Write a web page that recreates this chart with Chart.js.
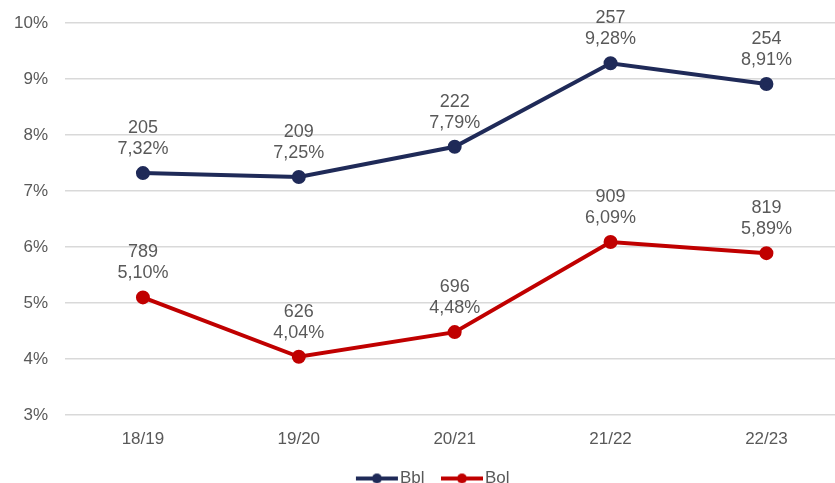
<!DOCTYPE html>
<html>
<head>
<meta charset="utf-8">
<script src="https://cdn.jsdelivr.net/npm/chart.js@4/dist/chart.umd.min.js"></script>
<style>
  html, body { margin: 0; padding: 0; background: #fff; overflow: hidden; }
  #wrap { width: 835px; height: 483px; position: relative; }
</style>
</head>
<body>
<div id="wrap"><canvas id="rateChart"></canvas></div>
<script>
// Data
const categories = ['18/19', '19/20', '20/21', '21/22', '22/23'];
const bblRates = [7.32, 7.25, 7.79, 9.28, 8.91];
const bblCounts = [205, 209, 222, 257, 254];
const bolRates = [5.10, 4.04, 4.48, 6.09, 5.89];
const bolCounts = [789, 626, 696, 909, 819];
const yMin = 3, yMax = 10, yStep = 1;

const textColor = '#595959';
const fontFamily = "'Liberation Sans', Arial, sans-serif";
const navy = '#1F2A58';
const red = '#C00000';

// legend marker: short line with a dot in the middle (blank space on the left = gap between items)
function legendMarker(color) {
  const c = document.createElement('canvas');
  c.width = 59; c.height = 12;
  const ctx = c.getContext('2d');
  ctx.strokeStyle = color;
  ctx.lineWidth = 4;
  ctx.beginPath();
  ctx.moveTo(16, 6);
  ctx.lineTo(58, 6);
  ctx.stroke();
  ctx.fillStyle = color;
  ctx.beginPath();
  ctx.arc(37, 6, 5, 0, Math.PI * 2);
  ctx.fill();
  return c;
}

// two-line labels (count over percent) above each point
const pointLabels = {
  id: 'pointLabels',
  afterDatasetsDraw(chart) {
    const ctx = chart.ctx;
    ctx.save();
    ctx.font = '18px ' + fontFamily;
    ctx.fillStyle = textColor;
    ctx.textAlign = 'center';
    ctx.textBaseline = 'middle';
    chart.data.datasets.forEach(function(ds, di) {
      const meta = chart.getDatasetMeta(di);
      meta.data.forEach(function(pt, i) {
        const pct = ds.data[i].y.toFixed(2).replace('.', ',') + '%';
        ctx.fillText(String(ds.counts[i]), pt.x, pt.y - 45);
        ctx.fillText(pct, pt.x, pt.y - 24);
      });
    });
    ctx.restore();
  }
};

// nudge the legend row a little to the right, like the original
const legendShift = {
  id: 'legendShift',
  afterLayout(chart) {
    if (chart.legend) {
      chart.legend.left += 11;
      chart.legend.right += 11;
    }
  }
};

const toPoints = function(vals) {
  return vals.map(function(v, i) { return { x: i, y: v }; });
};

new Chart(document.getElementById('rateChart'), {
  type: 'line',
  data: {
    datasets: [{
      label: 'Bbl',
      data: toPoints(bblRates),
      counts: bblCounts,
      borderColor: navy,
      backgroundColor: navy,
      borderWidth: 4,
      pointRadius: 5,
      pointStyle: 'circle',
      tension: 0
    }, {
      label: 'Bol',
      data: toPoints(bolRates),
      counts: bolCounts,
      borderColor: red,
      backgroundColor: red,
      borderWidth: 4,
      pointRadius: 5,
      pointStyle: 'circle',
      tension: 0
    }]
  },
  options: {
    responsive: true,
    maintainAspectRatio: false,
    animation: false,
    layout: {
      autoPadding: false,
      padding: { top: 23, right: 0, bottom: -14, left: 0 }
    },
    scales: {
      x: {
        type: 'linear',
        min: -0.5,
        max: 4.44,
        afterBuildTicks: function(scale) {
          scale.ticks = categories.map(function(c, i) { return { value: i }; });
        },
        afterFit: function(scale) { scale.height = 47; },
        ticks: {
          callback: function(v) { return categories[v]; },
          color: textColor,
          font: { family: fontFamily, size: 17 },
          padding: 14,
          maxRotation: 0
        },
        grid: { display: false, drawTicks: false },
        border: { display: false }
      },
      y: {
        min: yMin,
        max: yMax,
        ticks: {
          stepSize: yStep,
          callback: function(v) { return v + '%'; },
          color: textColor,
          font: { family: fontFamily, size: 17 },
          padding: 17
        },
        afterFit: function(scale) {
          scale.width = 65;
          scale.paddingTop = 0;
          scale.paddingBottom = 0;
        },
        grid: { color: '#D9D9D9', lineWidth: 1.5, drawTicks: false },
        border: { display: false }
      }
    },
    plugins: {
      tooltip: { enabled: false },
      legend: {
        position: 'bottom',
        labels: {
          color: textColor,
          font: { family: fontFamily, size: 17 },
          usePointStyle: true,
          pointStyleWidth: 44,
          padding: 8,
          generateLabels: function(chart) {
            return chart.data.datasets.map(function(ds, i) {
              return {
                text: ds.label,
                pointStyle: legendMarker(ds.borderColor),
                fillStyle: ds.borderColor,
                strokeStyle: ds.borderColor,
                lineWidth: 0,
                fontColor: textColor,
                datasetIndex: i
              };
            });
          }
        }
      }
    }
  },
  plugins: [pointLabels, legendShift]
});
</script>
</body>
</html>
